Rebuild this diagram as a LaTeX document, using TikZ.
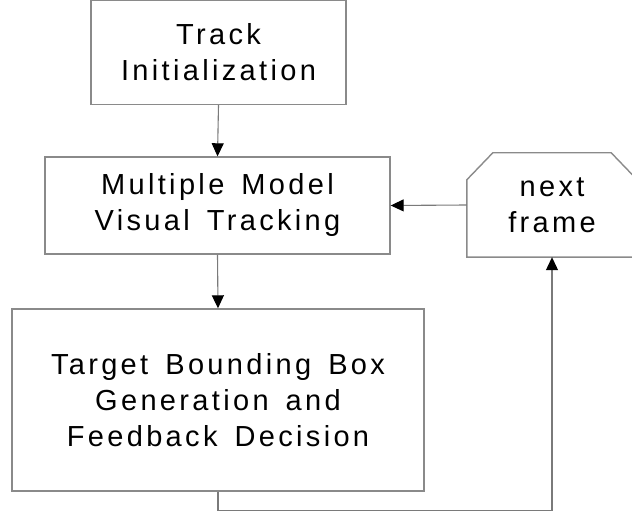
\documentclass[tikz,border=0pt]{standalone}
\usepackage{fontspec}
\setmainfont{Liberation Sans}[LetterSpace=11.5,WordSpace=1.5]
\usetikzlibrary{arrows.meta,calc}
\definecolor{edge}{HTML}{8A8A8A}
\definecolor{wire}{HTML}{7A7A7A}
\begin{document}
\begin{tikzpicture}[x=1pt,y=-1pt,
  block/.style={draw=edge,line width=1.4pt,fill=white,align=center,
    font=\fontsize{29}{36}\selectfont,inner sep=0pt},
  flow/.style={draw=wire,line width=1.1pt,
    -{Triangle[width=12pt,length=13pt,fill=black,color=black]}}]
\useasboundingbox (0,0) rectangle (632,513);
\clip (0,0) rectangle (632,513);

\node[block,minimum width=255pt,minimum height=104pt] (init) at (218.5,52.5)
  {Track\\Initialization};
\node[block,minimum width=345pt,minimum height=97pt] (track) at (217.5,205.5)
  {Multiple Model\\Visual Tracking};
\node[block,minimum width=412pt,minimum height=182pt] (bbox) at (218,400)
  {Target Bounding Box\\Generation and\\Feedback Decision};

% frame source: box with chamfered upper corners
\node[inner sep=0pt,minimum width=170pt,minimum height=104pt,align=center,
  font=\fontsize{29}{36}\selectfont] (next) at (552,205) {next\\frame};
\draw[draw=edge,line width=1.4pt]
  ($(next.north west)+(0,27)$) -- ($(next.north west)+(26,0)$)
  -- ($(next.north east)+(-26,0)$) -- ($(next.north east)+(0,27)$)
  -- (next.south east) -- (next.south west) -- cycle;

\draw[flow] (init.south) -- (track.north);
\draw[flow] (track.south) -- (bbox.north);
\draw[flow] (next.west) -- (track.east);
\coordinate (c1) at ($(bbox.south)+(0,19)$);
\draw[flow] (bbox.south) -- (c1) -| (next.south);
\end{tikzpicture}
\end{document}
